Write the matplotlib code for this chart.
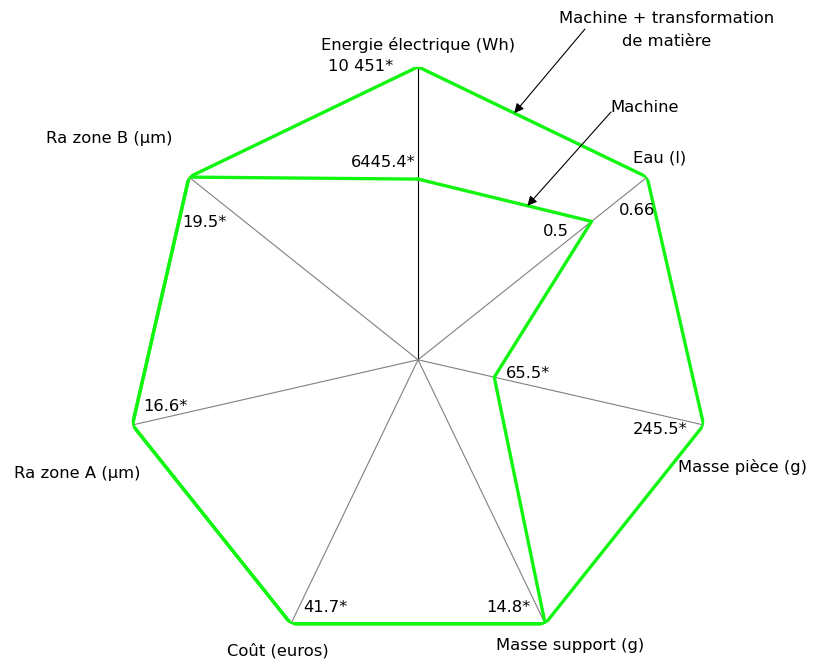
import numpy as np
import matplotlib.pyplot as plt

# Axes of the radar, clockwise from the top
axes_names = ["Energie électrique (Wh)", "Eau (l)", "Masse pièce (g)",
              "Masse support (g)", "Coût (euros)", "Ra zone A (µm)",
              "Ra zone B (µm)"]
# Machine + transformation de matière
total = [10451, 0.66, 245.5, 14.8, 41.7, 16.6, 19.5]
total_labels = ["10 451*", "0.66", "245.5*", "14.8*", "41.7*", "16.6*", "19.5*"]
# Machine only
machine = [6445.4, 0.5, 65.5, 14.8, 41.7, 16.6, 19.5]
machine_labels = ["6445.4*", "0.5", "65.5*", "", "", "", ""]

n = len(axes_names)
theta = np.arange(n) * 2 * np.pi / n
r_total = np.array(total) / np.array(total)
r_machine = np.array(machine) / np.array(total)

fig = plt.figure(figsize=(8.13, 6.64), dpi=100)
ax = fig.add_axes([0.1538, 0.0169, 0.7208, 0.8825], projection="polar")
ax.set_theta_offset(np.pi / 2)
ax.set_theta_direction(-1)
ax.set_ylim(0, 1)
ax.grid(False)
ax.set_xticks([])
ax.set_yticks([])
ax.spines["polar"].set_visible(False)

green = "#11f511"

# spokes
for i, t in enumerate(theta):
    ax.plot([t, t], [0, r_total[i]], color="black" if i == 0 else "#808080",
            lw=0.8, zorder=1)

tc = np.append(theta, theta[0])
ax.plot(tc, np.append(r_total, r_total[0]), color=green, lw=2.4, zorder=3)
ax.plot(tc, np.append(r_machine, r_machine[0]), color=green, lw=2.4, zorder=3)

fs = 11.8
# axis names: offset from the outer vertex (pixels)
name_off = [(0, 22), (13, 19), (39, -42), (25, -22), (-13, -27), (-55, -49), (-80, 39)]
for i, name in enumerate(axes_names):
    ax.annotate(name, (theta[i], r_total[i]), xytext=name_off[i],
                textcoords="offset pixels", ha="center", va="center", fontsize=fs)

# value labels of the outer polygon
tot_off = [(-25, 0, "right"), (-10, -33, "center"), (-16, -5, "right"),
           (-15, 16, "right"), (12, 16, "left"), (11, 18, "left"), (-7, -45, "left")]
for i, lab in enumerate(total_labels):
    dx, dy, ha = tot_off[i]
    ax.annotate(lab, (theta[i], r_total[i]), xytext=(dx, dy),
                textcoords="offset pixels", ha=ha, va="center", fontsize=fs)

# value labels of the inner polygon
mac_off = [(-2, 17, "right"), (-36, -10, "center"), (12, 4, "left")]
for i in range(3):
    dx, dy, ha = mac_off[i]
    ax.annotate(machine_labels[i], (theta[i], r_machine[i]), xytext=(dx, dy),
                textcoords="offset pixels", ha=ha, va="center", fontsize=fs)

# series callouts
def edge_point(r, i, frac):
    x0, y0 = r[i] * np.sin(theta[i]), r[i] * np.cos(theta[i])
    x1, y1 = r[i + 1] * np.sin(theta[i + 1]), r[i + 1] * np.cos(theta[i + 1])
    x, y = x0 + frac * (x1 - x0), y0 + frac * (y1 - y0)
    return np.arctan2(x, y), np.hypot(x, y)

arrow = dict(arrowstyle="-|>", color="black", lw=0.8, mutation_scale=14,
             shrinkA=0, shrinkB=0)
fig.text(667 / 813, 634 / 664, "Machine + transformation\nde matière",
         ha="center", va="center", fontsize=fs, linespacing=1.6)
ax.annotate("", edge_point(r_total, 0, 0.42), xytext=(585, 635),
            textcoords="figure pixels", arrowprops=arrow)
fig.text(645 / 813, 556 / 664, "Machine", ha="center", va="center", fontsize=fs)
ax.annotate("", edge_point(r_machine, 0, 0.63), xytext=(611, 552),
            textcoords="figure pixels", arrowprops=arrow)

fig.savefig("out.png", dpi=100)
